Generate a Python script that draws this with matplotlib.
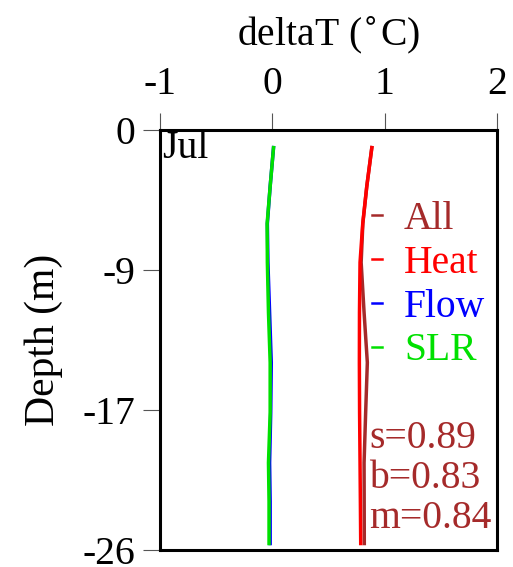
import numpy as np
import matplotlib
matplotlib.use("Agg")
import matplotlib.pyplot as plt

plt.rcParams['font.family'] = ['Liberation Serif', 'DejaVu Serif']

# depth levels (m) and temperature change (deg C) per experiment
depth = [-1.1, -3.5, -5.8, -8.2, -11.3, -14.4, -17.5, -20.6, -23.0, -25.6]
all_run = [0.885, 0.84, 0.805, 0.79, 0.816, 0.845, 0.83, 0.816, 0.817, 0.818]
heat = [0.885, 0.84, 0.804, 0.78, 0.775, 0.774, 0.776, 0.78, 0.783, 0.786]
flow = [0.01, -0.02, -0.045, -0.04, -0.025, -0.01, -0.015, -0.025, -0.02, -0.02]
slr = [0.01, -0.02, -0.047, -0.045, -0.035, -0.02, -0.02, -0.035, -0.03, -0.03]

names = ["All", "Heat", "Flow", "SLR"]
colors = ["#a52a2a", "red", "blue", "#00e000"]
stats = "s=0.89\nb=0.83\nm=0.84"

xticks = [-1, 0, 1, 2]
yticks = np.linspace(0, -26, 4)
ylabels = ["0", "-9", "-17", "-26"]

fs = 28.5

fig = plt.figure(figsize=(5.13, 5.67), dpi=100)
ax = fig.add_axes([0.312, 0.030, 0.657, 0.741])

for vals, c, n in zip([all_run, heat, flow, slr], colors, names):
    ax.plot(vals, depth, color=c, lw=2.5, label=n)

ax.set_xlim(-1, 2)
ax.set_ylim(-26, 0)
ax.xaxis.tick_top()
ax.xaxis.set_label_position('top')
ax.set_xticks(xticks)
ax.set_xticklabels([str(t) for t in xticks])
ax.set_yticks(yticks)
ax.set_yticklabels(ylabels)
ax.tick_params(axis='both', direction='out', length=12, width=0.8,
               color='#555555', labelsize=fs)
ax.tick_params(axis='x', pad=7)
ax.tick_params(axis='y', pad=6)
ax.set_xlabel("deltaT ($^{\\circ}$C)", fontsize=fs, labelpad=15)
ax.set_ylabel("Depth (m)", fontsize=30, labelpad=14)
for s in ax.spines.values():
    s.set_linewidth(2.2)

ax.text(0.005, 1.0, "Jul", transform=ax.transAxes, ha='left', va='top', fontsize=fs)

leg = ax.legend(loc='upper left', bbox_to_anchor=(0.63, 0.83), frameon=False,
                fontsize=fs, handlelength=0.25, handletextpad=0.55,
                labelspacing=0.17, borderaxespad=0, borderpad=0)
for txt, c in zip(leg.get_texts(), colors):
    txt.set_color(c)
for h in leg.legend_handles:
    h.set_linewidth(1.8)

ax.text(0.62, 0.03, stats, transform=ax.transAxes, ha='left', va='bottom',
        fontsize=fs, color="#a52a2a", linespacing=1.12)

fig.savefig("out.png", dpi=100)
